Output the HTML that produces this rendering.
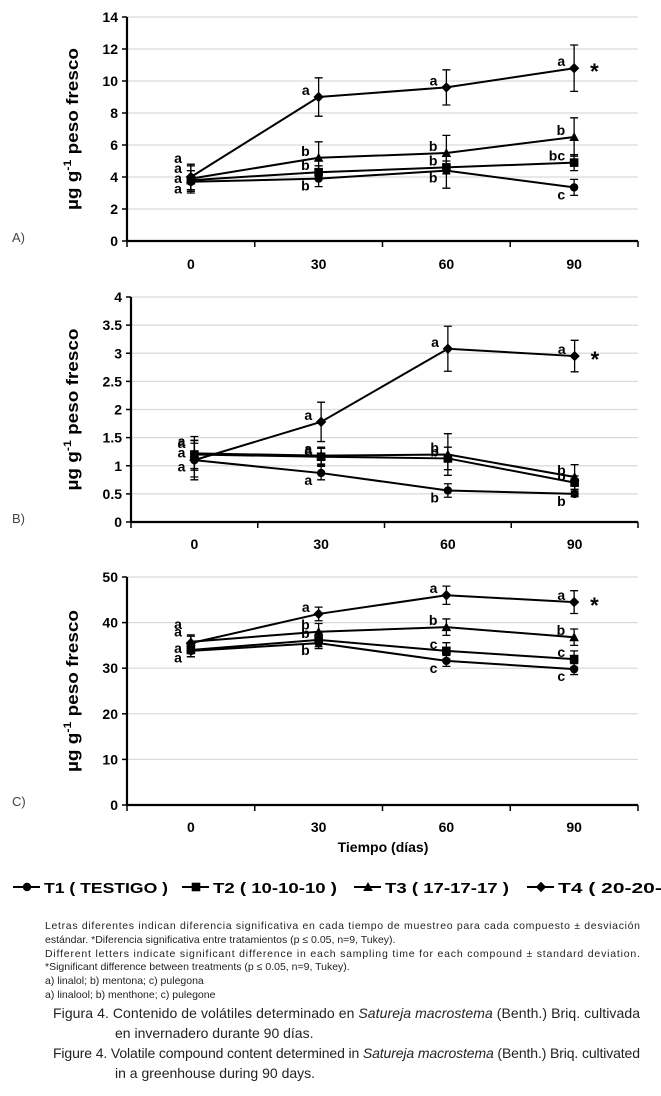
<!DOCTYPE html>
<html><head><meta charset="utf-8"><style>
html,body{margin:0;padding:0;background:#fff}
svg{display:block;font-family:"Liberation Sans",sans-serif}
</style></head><body>
<svg id="fig" width="661" height="1096" viewBox="0 0 661 1096">
<g id="panels"></g>
<g id="legend"></g>
<g fill="#222">
<text x="45" y="929" font-size="10.5" textLength="595" lengthAdjust="spacing">Letras diferentes indican diferencia significativa en cada tiempo de muestreo para cada compuesto ± desviación</text>
<text x="45" y="943" font-size="10.5">estándar. *Diferencia significativa entre tratamientos (p ≤ 0.05, n=9, Tukey).</text>
<text x="45" y="957" font-size="10.5" textLength="595" lengthAdjust="spacing">Different letters indicate significant difference in each sampling time for each compound ± standard deviation.</text>
<text x="45" y="970" font-size="10.5">*Significant difference between treatments (p ≤ 0.05, n=9, Tukey).</text>
<text x="45" y="984" font-size="10.5">a) linalol; b) mentona; c) pulegona</text>
<text x="45" y="998" font-size="10.5">a) linalool; b) menthone; c) pulegone</text>
<text x="53" y="1018" font-size="14" textLength="587" lengthAdjust="spacing">Figura 4. Contenido de volátiles determinado en <tspan font-style="italic">Satureja macrostema</tspan> (Benth.) Briq. cultivada</text>
<text x="115" y="1038" font-size="14">en invernadero durante 90 días.</text>
<text x="53" y="1058" font-size="14" textLength="587" lengthAdjust="spacing">Figure 4. Volatile compound content determined in <tspan font-style="italic">Satureja macrostema</tspan> (Benth.) Briq. cultivated</text>
<text x="115" y="1078" font-size="14">in a greenhouse during 90 days.</text>
</g>
</svg>
<script>
const categories = ["0","30","60","90"];
const seriesNames = ["T1 ( TESTIGO )","T2 ( 10-10-10 )","T3 ( 17-17-17 )","T4 ( 20-20-20 )"];
// Panel A
const aT1 = [3.7,3.9,4.4,3.35]; const aT1e=[0.7,0.5,1.1,0.5];
const aT2 = [3.8,4.3,4.6,4.9];  const aT2e=[0.6,0.4,0.4,0.5];
const aT3 = [3.9,5.2,5.5,6.5];  const aT3e=[0.8,1.0,1.1,1.2];
const aT4 = [4.0,9.0,9.6,10.8]; const aT4e=[0.8,1.2,1.1,1.45];
const aLetters = [["a","b","b","c"],["a","b","b","bc"],["a","b","b","b"],["a","a","a","a"]];
const aTicks = [0,2,4,6,8,10,12,14];
// Panel B
const bT1 = [1.1,0.87,0.56,0.5]; const bT1e=[0.35,0.12,0.12,0.05];
const bT2 = [1.2,1.16,1.13,0.7]; const bT2e=[0.25,0.15,0.2,0.12];
const bT3 = [1.22,1.18,1.2,0.8]; const bT3e=[0.3,0.15,0.37,0.22];
const bT4 = [1.1,1.78,3.08,2.95]; const bT4e=[0.3,0.35,0.4,0.28];
const bLetters = [["a","a","b","b"],["a","a","b","b"],["a","a","b","b"],["a","a","a","a"]];
const bTicks = [0,0.5,1,1.5,2,2.5,3,3.5,4];
// Panel C
const cT1 = [33.8,35.5,31.6,29.8]; const cT1e=[1.3,1.2,1.2,1.2];
const cT2 = [34.0,36.2,33.8,32.0]; const cT2e=[1.5,1.5,1.8,1.8];
const cT3 = [35.8,38.0,39.0,36.8]; const cT3e=[1.5,1.8,1.8,1.8];
const cT4 = [35.5,41.9,46.0,44.5]; const cT4e=[1.5,1.5,2.0,2.5];
const cLetters = [["a","b","c","c"],["a","b","c","c"],["a","b","b","b"],["a","a","a","a"]];
const cTicks = [0,10,20,30,40,50];

const NS="http://www.w3.org/2000/svg";
function mk(tag,attrs,parent){const e=document.createElementNS(NS,tag);for(const k in attrs)e.setAttribute(k,attrs[k]);parent.appendChild(e);return e;}
function marker(kind,cx,cy,parent){
  let e;
  if(kind===0) e=mk("circle",{cx:cx,cy:cy,r:4.2,fill:"#000"},parent);
  else if(kind===1) e=mk("rect",{x:cx-4.3,y:cy-4.3,width:8.6,height:8.6,fill:"#000"},parent);
  else if(kind===2) e=mk("polygon",{points:`${cx},${cy-5} ${cx+4.8},${cy+4} ${cx-4.8},${cy+4}`,fill:"#000"},parent);
  else e=mk("polygon",{points:`${cx},${cy-5.2} ${cx+5.2},${cy} ${cx},${cy+5.2} ${cx-5.2},${cy}`,fill:"#000"},parent);
  return e;
}
const panelsG=document.getElementById("panels");
const panels=[
 {id:"a",label:"A)",top:17,bottom:241,left:127,max:14,ticks:aTicks,vals:[aT1,aT2,aT3,aT4],errs:[aT1e,aT2e,aT3e,aT4e],letters:aLetters,xlab:264,title:false},
 {id:"b",label:"B)",top:297,bottom:522,left:131,max:4,ticks:bTicks,vals:[bT1,bT2,bT3,bT4],errs:[bT1e,bT2e,bT3e,bT4e],letters:bLetters,xlab:544,title:false},
 {id:"c",label:"C)",top:577,bottom:805,left:127,max:50,ticks:cTicks,vals:[cT1,cT2,cT3,cT4],errs:[cT1e,cT2e,cT3e,cT4e],letters:cLetters,xlab:827,title:true}
];
const right=638;
panels.forEach(p=>{
  const g=mk("g",{},panelsG);
  
  
  const y=v=>p.bottom-(v/p.max)*(p.bottom-p.top);
  const bw=(right-p.left)/categories.length;
  const x=i=>p.left+bw*(i+0.5);
  // grid + y ticks
  p.ticks.forEach(t=>{
    if(t>0){const gl=mk("line",{x1:p.left,x2:right,y1:y(t),y2:y(t),stroke:"#d9d9d9","stroke-width":1.2},g);
      
      }
    mk("line",{x1:p.left-5,x2:p.left,y1:y(t),y2:y(t),stroke:"#000","stroke-width":1.5},g);
    const tl=mk("text",{x:p.left-9,y:y(t)+5,"text-anchor":"end","font-size":14,"font-weight":"bold"},g);
    tl.textContent=String(t);
    
    
  });
  // axes
  const ya=mk("line",{x1:p.left,x2:p.left,y1:p.top,y2:p.bottom,stroke:"#000","stroke-width":2.2},g);
  
  
  const xa=mk("line",{x1:p.left,x2:right,y1:p.bottom,y2:p.bottom,stroke:"#000","stroke-width":2.2},g);
  
  
  for(let i=0;i<=categories.length;i++){
    mk("line",{x1:p.left+bw*i,x2:p.left+bw*i,y1:p.bottom,y2:p.bottom+6,stroke:"#000","stroke-width":1.5},g);
  }
  categories.forEach((c,i)=>{
    const t=mk("text",{x:x(i),y:p.xlab+5,"text-anchor":"middle","font-size":14,"font-weight":"bold"},g);
    t.textContent=c;
    
    
  });
  // y title
  const cy=(p.top+p.bottom)/2;
  const yt=mk("text",{x:0,y:0,transform:`translate(78,${cy}) rotate(-90)`,"text-anchor":"middle","font-size":17,"font-weight":"bold",textLength:162,lengthAdjust:"spacingAndGlyphs"},g);
  yt.innerHTML='µg g<tspan font-size="11" dy="-7">-1</tspan><tspan dy="7"> peso fresco</tspan>';
  
  
  const pl=mk("text",{x:12,y:p.bottom+1,"font-size":13,fill:"#444"},g);
  pl.textContent=p.label;
  
  
  if(p.title){
    const xt=mk("text",{x:383,y:852,"text-anchor":"middle","font-size":14,"font-weight":"bold"},g);
    xt.textContent="Tiempo (días)";
    
    
  }
  // series
  p.vals.forEach((vals,s)=>{
    const sg=mk("g",{},g);
    
    
    const pts=vals.map((v,i)=>x(i)+","+y(v)).join(" ");
    mk("polyline",{points:pts,fill:"none",stroke:"#000","stroke-width":2},sg);
    vals.forEach((v,i)=>{
      const e=p.errs[s][i];
      const cx=x(i);
      const eb=mk("path",{d:`M${cx},${y(v+e)}V${y(v-e)}M${cx-4},${y(v+e)}H${cx+4}M${cx-4},${y(v-e)}H${cx+4}`,stroke:"#000","stroke-width":1.3,fill:"none"},sg);
      
      
      const m=marker(s,cx,y(v),sg);
      
      
      // letters
      let ly;
      if(i===0){ ly=y(vals[0])-14+ (3-s)*8.5; }
      else if(s===0){ ly=y(v)+12; }
      else { ly=y(v)-2; }
      const lt=mk("text",{x:cx-9,y:ly,"text-anchor":"end","font-size":14,"font-weight":"bold"},sg);
      lt.textContent=p.letters[s][i];
      
      
    });
  });
  const st=mk("text",{x:x(3)+16,y:y(p.vals[3][3])+11,"font-size":22,"font-weight":"bold"},g);
  st.textContent="*";
  
  
});
// legend
const lg=document.getElementById("legend");
const legX=[13,182,354,527];
seriesNames.forEach((n,s)=>{
  const it=mk("g",{},lg);
  
  
  mk("line",{x1:legX[s],x2:legX[s]+27,y1:887,y2:887,stroke:"#000","stroke-width":2},it);
  marker(s,legX[s]+14,887,it);
  const t=mk("text",{x:legX[s]+31,y:893,"font-size":15,"font-weight":"bold",textLength:s===3?140:124,lengthAdjust:"spacingAndGlyphs"},it);
  t.textContent=n;
});
</script>
</body></html>
